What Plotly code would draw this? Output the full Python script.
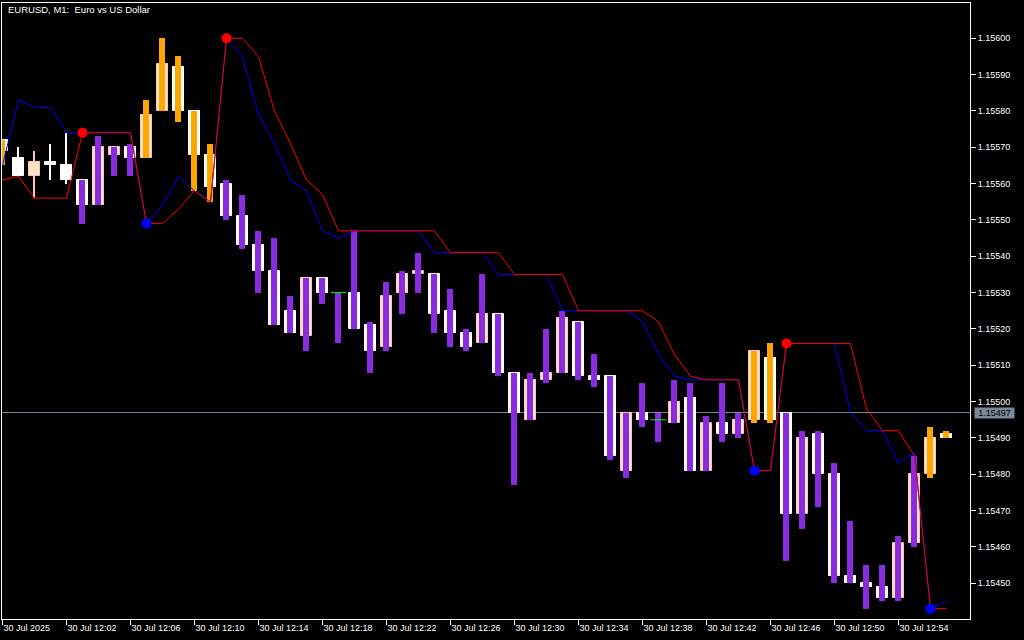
import plotly.graph_objects as go

# ---------------- data (EURUSD M1, 30 Jul 2025, 11:58 .. 12:57) ----------------
minutes = ["11:58", "11:59"] + [f"12:{m:02d}" for m in range(0, 58)]

opens = [1.15572, 1.15567, 1.15562, 1.15566, 1.15565, 1.15561, 1.15554, 1.15568, 1.15570, 1.15567,
         1.15580, 1.15592, 1.15580, 1.15568, 1.15560, 1.15551, 1.15543, 1.15536, 1.15525, 1.15518,
         1.15534, 1.15530, 1.15530, 1.15521, 1.15515, 1.15530, 1.15535, 1.15535, 1.15525, 1.15519,
         1.15516, 1.15524, 1.15508, 1.15495, 1.15506, 1.15508, 1.15522, 1.15507, 1.15507, 1.15481,
         1.15497, 1.15495, 1.15494, 1.15501, 1.15481, 1.15494, 1.15491, 1.15495, 1.15512, 1.15497,
         1.15469, 1.15491, 1.15480, 1.15452, 1.15450, 1.15449, 1.15446, 1.15461, 1.15480, 1.15491]
highs = [1.15572, 1.15570, 1.15569, 1.15571, 1.15574, 1.15561, 1.15573, 1.15570, 1.15571, 1.15583,
         1.15600, 1.15595, 1.15580, 1.15571, 1.15561, 1.15557, 1.15547, 1.15545, 1.15529, 1.15534,
         1.15534, 1.15530, 1.15547, 1.15522, 1.15533, 1.15536, 1.15541, 1.15535, 1.15531, 1.15520,
         1.15535, 1.15524, 1.15508, 1.15508, 1.15520, 1.15525, 1.15522, 1.15513, 1.15507, 1.15497,
         1.15505, 1.15497, 1.15506, 1.15505, 1.15496, 1.15505, 1.15497, 1.15514, 1.15516, 1.15497,
         1.15492, 1.15492, 1.15483, 1.15467, 1.15455, 1.15455, 1.15463, 1.15485, 1.15493, 1.15492]
lows = [1.15565, 1.15562, 1.15556, 1.15561, 1.15560, 1.15549, 1.15554, 1.15562, 1.15562, 1.15567,
        1.15580, 1.15577, 1.15558, 1.15555, 1.15550, 1.15542, 1.15530, 1.15521, 1.15519, 1.15514,
        1.15527, 1.15516, 1.15520, 1.15508, 1.15514, 1.15524, 1.15530, 1.15519, 1.15515, 1.15514,
        1.15516, 1.15507, 1.15477, 1.15495, 1.15505, 1.15508, 1.15506, 1.15504, 1.15484, 1.15479,
        1.15493, 1.15489, 1.15494, 1.15481, 1.15481, 1.15489, 1.15490, 1.15494, 1.15494, 1.15456,
        1.15465, 1.15471, 1.15450, 1.15450, 1.15443, 1.15445, 1.15445, 1.15460, 1.15479, 1.15490]
closes = [1.15569, 1.15562, 1.15566, 1.15565, 1.15561, 1.15554, 1.15570, 1.15570, 1.15567, 1.15579,
          1.15593, 1.15580, 1.15568, 1.15559, 1.15551, 1.15543, 1.15536, 1.15521, 1.15519, 1.15534,
          1.15530, 1.15530, 1.15520, 1.15514, 1.15529, 1.15535, 1.15536, 1.15524, 1.15519, 1.15515,
          1.15524, 1.15508, 1.15497, 1.15506, 1.15508, 1.15523, 1.15507, 1.15506, 1.15485, 1.15497,
          1.15495, 1.15495, 1.15500, 1.15481, 1.15494, 1.15491, 1.15495, 1.15514, 1.15495, 1.15469,
          1.15490, 1.15480, 1.15452, 1.15450, 1.15449, 1.15446, 1.15461, 1.15480, 1.15490, 1.15490]

# indicator trend colouring per bar ("up" orange, "down" purple, None = not coloured)
trend = (["up"] + [None] * 4 + ["down"] * 4 + ["up"] * 5 + ["down"] * 33
         + ["up"] * 2 + ["down"] * 9 + ["up"] * 2)

red_line = [1.15561, 1.15562, 1.15556, 1.15556, 1.15556, 1.15574, 1.15574, 1.15574, 1.15574, 1.15549,
            1.15549, 1.15553, 1.15558, 1.15555, 1.15600, 1.15600, 1.15595, 1.15580, 1.15571, 1.15561,
            1.15557, 1.15547, 1.15547, 1.15547, 1.15547, 1.15547, 1.15547, 1.15547, 1.15541, 1.15541,
            1.15541, 1.15541, 1.15535, 1.15535, 1.15535, 1.15535, 1.15525, 1.15525, 1.15525, 1.15525,
            1.15525, 1.15522, 1.15513, 1.15507, 1.15506, 1.15506, 1.15506, 1.15481, 1.15481, 1.15516,
            1.15516, 1.15516, 1.15516, 1.15516, 1.15498, 1.15492, 1.15492, 1.15485, 1.15443, 1.15443]
blue_line = [1.15565, 1.15583, 1.15581, 1.15581, 1.15574, 1.15574, 1.15574, 1.15574, 1.15574, 1.15549,
             1.15554, 1.15562, 1.15558, 1.15555, 1.15600, 1.15595, 1.15579, 1.15571, 1.15561, 1.15558,
             1.15547, 1.15545, 1.15547, 1.15547, 1.15547, 1.15547, 1.15547, 1.15541, 1.15541, 1.15541,
             1.15541, 1.15535, 1.15535, 1.15535, 1.15535, 1.15525, 1.15525, 1.15525, 1.15525, 1.15525,
             1.15522, 1.15513, 1.15507, 1.15506, 1.15506, 1.15506, 1.15506, 1.15481, 1.15481, 1.15516,
             1.15516, 1.15516, 1.15516, 1.15497, 1.15492, 1.15492, 1.15483, 1.15486, 1.15443, 1.15445]

red_dot_bars = [5, 14, 49]
blue_dot_bars = [9, 47, 58]

bid_level = 1.15497
price_ticks = [1.15450, 1.15460, 1.15470, 1.15480, 1.15490, 1.15500, 1.15510, 1.15520,
               1.15530, 1.15540, 1.15550, 1.15560, 1.15570, 1.15580, 1.15590, 1.15600]
time_tick_bars = list(range(0, 60, 4))
time_tick_text = ["30 Jul 2025"] + ["30 Jul " + minutes[i] for i in time_tick_bars[1:]]
title_text = "EURUSD, M1:  Euro vs US Dollar"

# ---------------- styling ----------------
BULL_FILL = "#FFE4C4"
BULL_EDGE = "#FFC0C0"
BEAR_FILL = "#FFFFFF"
DOJI = "#00FF00"
UP_COL = "#FFA500"
DN_COL = "#8A2BE2"
FONT = "Liberation Sans"

n = len(opens)
xs = list(range(n))

bull_idx = [i for i in xs if closes[i] > opens[i]]
bear_idx = [i for i in xs if closes[i] < opens[i]]
doji_idx = [i for i in xs if closes[i] == opens[i]]

fig = go.Figure()

# wicks (thin bars so they sit under the coloured bars)
def wick_colour(i):
    if closes[i] > opens[i]:
        return BULL_EDGE
    if closes[i] < opens[i]:
        return BEAR_FILL
    return DOJI

fig.add_trace(go.Bar(
    x=xs, base=lows, y=[highs[i] - lows[i] for i in xs], width=0.07,
    marker=dict(color=[wick_colour(i) for i in xs], line=dict(width=0)),
    hoverinfo="skip", showlegend=False))

# bodies
body_idx = bull_idx + bear_idx
fig.add_trace(go.Bar(
    x=body_idx,
    base=[min(opens[i], closes[i]) for i in body_idx],
    y=[abs(closes[i] - opens[i]) for i in body_idx],
    width=0.63,
    marker=dict(color=[BULL_FILL if closes[i] > opens[i] else BEAR_FILL for i in body_idx],
                line=dict(color=[BULL_EDGE if closes[i] > opens[i] else BEAR_FILL for i in body_idx],
                          width=1)),
    hoverinfo="skip", showlegend=False))

# coloured high-low bars
col_idx = [i for i in xs if trend[i] is not None]
fig.add_trace(go.Bar(
    x=col_idx,
    base=[lows[i] for i in col_idx],
    y=[highs[i] - lows[i] for i in col_idx],
    width=0.375,
    marker=dict(color=[UP_COL if trend[i] == "up" else DN_COL for i in col_idx], line=dict(width=0)),
    hoverinfo="skip", showlegend=False))

# doji bodies
fig.add_trace(go.Scatter(x=doji_idx, y=[opens[i] for i in doji_idx], mode="markers",
                         marker=dict(symbol="line-ew", size=11, line=dict(color=DOJI, width=1)),
                         hoverinfo="skip", showlegend=False))

# indicator lines
fig.add_trace(go.Scatter(x=xs, y=blue_line, mode="lines", line=dict(color="#0000FF", width=1),
                         hoverinfo="skip", showlegend=False))
fig.add_trace(go.Scatter(x=xs, y=red_line, mode="lines", line=dict(color="#FF0000", width=1),
                         hoverinfo="skip", showlegend=False))

# swing dots
fig.add_trace(go.Scatter(x=red_dot_bars, y=[red_line[i] for i in red_dot_bars], mode="markers",
                         marker=dict(color="#FF0000", size=10, line=dict(width=0)),
                         hoverinfo="skip", showlegend=False))
fig.add_trace(go.Scatter(x=blue_dot_bars, y=[red_line[i] for i in blue_dot_bars], mode="markers",
                         marker=dict(color="#0000FF", size=10, line=dict(width=0)),
                         hoverinfo="skip", showlegend=False))

# bid line
fig.add_hline(y=bid_level, line=dict(color="#778899", width=1), layer="below")
fig.add_annotation(x=1.0, xref="paper", xshift=4, y=bid_level, yref="y", text=f"{bid_level:.5f}",
                   showarrow=False, xanchor="left", yanchor="middle", bgcolor="#778899",
                   width=39, height=10, align="center",
                   font=dict(family=FONT, size=9, color="#000000"), borderpad=0)

fig.add_annotation(x=0, xref="paper", xshift=4, y=1, yref="paper", yshift=-6, text=title_text,
                   showarrow=False, xanchor="left", yanchor="middle",
                   font=dict(family=FONT, size=9.5, color="#FFFFFF"))

y_bottom = 1.1544016
y_top = 1.1560972

fig.update_layout(
    width=1024, height=640,
    margin=dict(l=2, r=54, t=3, b=21, pad=0),
    paper_bgcolor="#000000", plot_bgcolor="#000000",
    barmode="overlay", bargap=0,
    showlegend=False,
    xaxis=dict(range=[-0.03, 60.47], tickvals=time_tick_bars, ticktext=time_tick_text,
               ticks="outside", ticklen=5, tickcolor="#FFFFFF", showline=True, linecolor="#FFFFFF",
               linewidth=1, mirror=True, showgrid=False, zeroline=False, automargin=False,
               tickfont=dict(family=FONT, size=9, color="#FFFFFF"),
               ticklabelposition="outside right"),
    yaxis=dict(range=[y_bottom, y_top], side="right", tickvals=price_ticks, tickformat=".5f",
               ticks="outside", ticklen=5, tickcolor="#FFFFFF", showline=True, linecolor="#FFFFFF",
               linewidth=1, mirror=True, showgrid=False, zeroline=False, automargin=False,
               tickfont=dict(family=FONT, size=9, color="#FFFFFF")),
)

fig.write_html("out.html", config={"displayModeBar": False},
               post_script="document.body.style.margin='0px';document.body.style.overflow='hidden';")
